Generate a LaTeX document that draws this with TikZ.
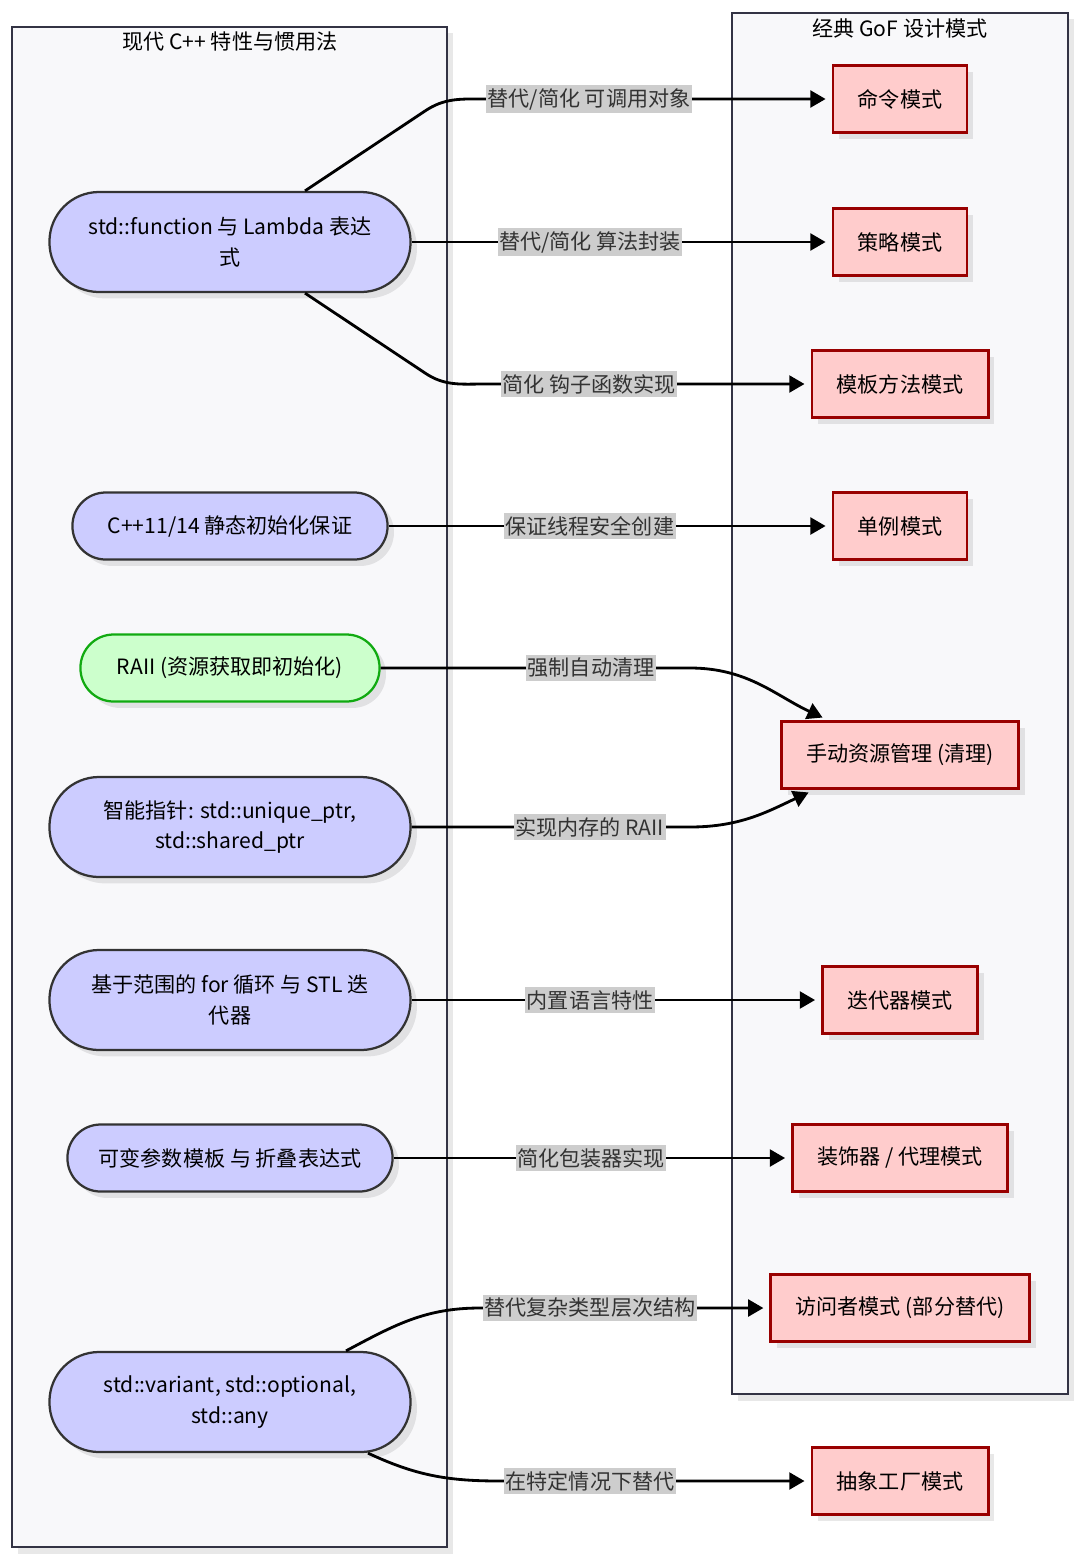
\documentclass[tikz,border=0pt]{standalone}
\usepackage{fontspec}
\setmainfont{Noto Sans CJK SC}
\usepackage{xcolor}
\usetikzlibrary{arrows.meta, shadows, calc}

\definecolor{featfill}{HTML}{CCCCFF}
\definecolor{featdraw}{HTML}{333333}
\definecolor{raiifill}{HTML}{CCFFCC}
\definecolor{raiidraw}{HTML}{11AA11}
\definecolor{patfill}{HTML}{FFCCCC}
\definecolor{patdraw}{HTML}{990000}
\definecolor{grpfill}{HTML}{F8F8FA}
\definecolor{grpdraw}{HTML}{333344}
\definecolor{lblfill}{HTML}{CDCDCD}

\tikzset{
  softshadow/.style={drop shadow={shadow xshift=0.16cm, shadow yshift=-0.16cm, fill=black, opacity=0.09}},
  group/.style={draw=grpdraw, fill=grpfill, line width=1.6pt, softshadow, inner sep=0pt},
  feature/.style={draw=featdraw, fill=featfill, line width=1.6pt, softshadow,
    align=center, inner xsep=0.7cm, minimum height=1.675cm, rounded corners=0.83cm},
  feature2/.style={feature, minimum height=2.5cm, rounded corners=1.24cm},
  pattern/.style={draw=patdraw, fill=patfill, line width=2pt, softshadow,
    inner xsep=0.62cm, minimum height=1.675cm},
  link/.style={line width=2pt, -{Triangle[length=0.38cm, width=0.42cm]}, shorten >=0.15cm},
  lbl/.style={fill=lblfill, text=black!80, inner xsep=1pt, inner ysep=2pt}
}

\begin{document}
\begin{tikzpicture}[x=0.025cm, y=-0.025cm, font=\fontsize{15}{22}\selectfont]

    % Page size
    \useasboundingbox (0,0) rectangle (1080,1561);

    % The two groups
    \node[group, minimum width=10.875cm, minimum height=38cm] (modern) at (229.5,787) {};
    \node[group, minimum width=8.4cm, minimum height=34.525cm] (gof) at (900,703.5) {};
    \node (modtitle) at (230,42) {现代 C++ 特性与惯用法};
    \node (goftitle) at (900,28) {经典 GoF 设计模式};

    % Modern C++ features (left)
    \node[feature2, minimum width=9.025cm] (func) at (230,242) {std::function 与 Lambda 表达\\式};
    \node[feature, minimum width=7.875cm] (init) at (230,526) {C++11/14 静态初始化保证};
    \node[feature, minimum width=7.475cm, draw=raiidraw, fill=raiifill] (raii) at (230,668) {RAII (资源获取即初始化)};
    \node[feature2, minimum width=9.025cm] (smart) at (230,827) {智能指针: std::unique\_ptr,\\std::shared\_ptr};
    \node[feature2, minimum width=9.025cm] (range) at (230,1000) {基于范围的 for 循环 与 STL 迭\\代器};
    \node[feature, minimum width=8.125cm] (varia) at (230,1158) {可变参数模板 与 折叠表达式};
    \node[feature2, minimum width=9.025cm] (vtype) at (230,1402) {std::variant, std::optional,\\std::any};

    % Classic patterns (right)
    \node[pattern] (command) at (900,99) {命令模式};
    \node[pattern] (strategy) at (900,242) {策略模式};
    \node[pattern] (template) at (900,384) {模板方法模式};
    \node[pattern] (single) at (900,526) {单例模式};
    \node[pattern] (manual) at (900,755) {手动资源管理 (清理)};
    \node[pattern] (iter) at (900,1000) {迭代器模式};
    \node[pattern] (deco) at (900,1158) {装饰器 / 代理模式};
    \node[pattern] (visitor) at (900,1308) {访问者模式 (部分替代)};
    \node[pattern] (factory) at (900,1481) {抽象工厂模式};

    % Bend points where curved links turn flat
    \coordinate (funcupbend) at (425,111);
    \coordinate (funcup) at (485,99);
    \coordinate (funcdownbend) at (425,373);
    \coordinate (funcdown) at (485,384);
    \coordinate (raiiflat) at (690,668);
    \coordinate (smartflat) at (690,827);
    \coordinate (vtypeup) at (480,1308);
    \coordinate (vtypedown) at (500,1481);

    % Links
    \draw[link] ($(func.north)+(75,0)$) -- (funcupbend) to[out=34, in=180] (funcup)
        -- node[lbl, pos=0.3] {替代/简化 可调用对象} (command.west);
    \draw[link] (func.east) -- node[lbl, pos=0.425] {替代/简化 算法封装} (strategy.west);
    \draw[link] ($(func.south)+(75,0)$) -- (funcdownbend) to[out=-34, in=180] (funcdown)
        -- node[lbl, pos=0.32] {简化 钩子函数实现} (template.west);
    \draw[link] (init.east) -- node[lbl, pos=0.454] {保证线程安全创建} (single.west);
    \draw[link] (raii.east) -- node[lbl, pos=0.68] {强制自动清理} (raiiflat)
        to[out=0, in=155] ($(manual.north)+(-72,0)$);
    \draw[link] (smart.east) -- node[lbl, pos=0.64] {实现内存的 RAII} (smartflat)
        to[out=0, in=205] ($(manual.south)+(-86,0)$);
    \draw[link] (range.east) -- node[lbl, pos=0.436] {内置语言特性} (iter.west);
    \draw[link] (varia.east) -- node[lbl, pos=0.497] {简化包装器实现} (deco.west);
    \draw[link] ($(vtype.north)+(116,0)$) to[out=28, in=180] (vtypeup)
        -- node[lbl, pos=0.38] {替代复杂类型层次结构} (visitor.west);
    \draw[link] ($(vtype.south)+(138,0)$) to[out=-25, in=180] (vtypedown)
        -- node[lbl, pos=0.29] {在特定情况下替代} (factory.west);
\end{tikzpicture}
\end{document}
